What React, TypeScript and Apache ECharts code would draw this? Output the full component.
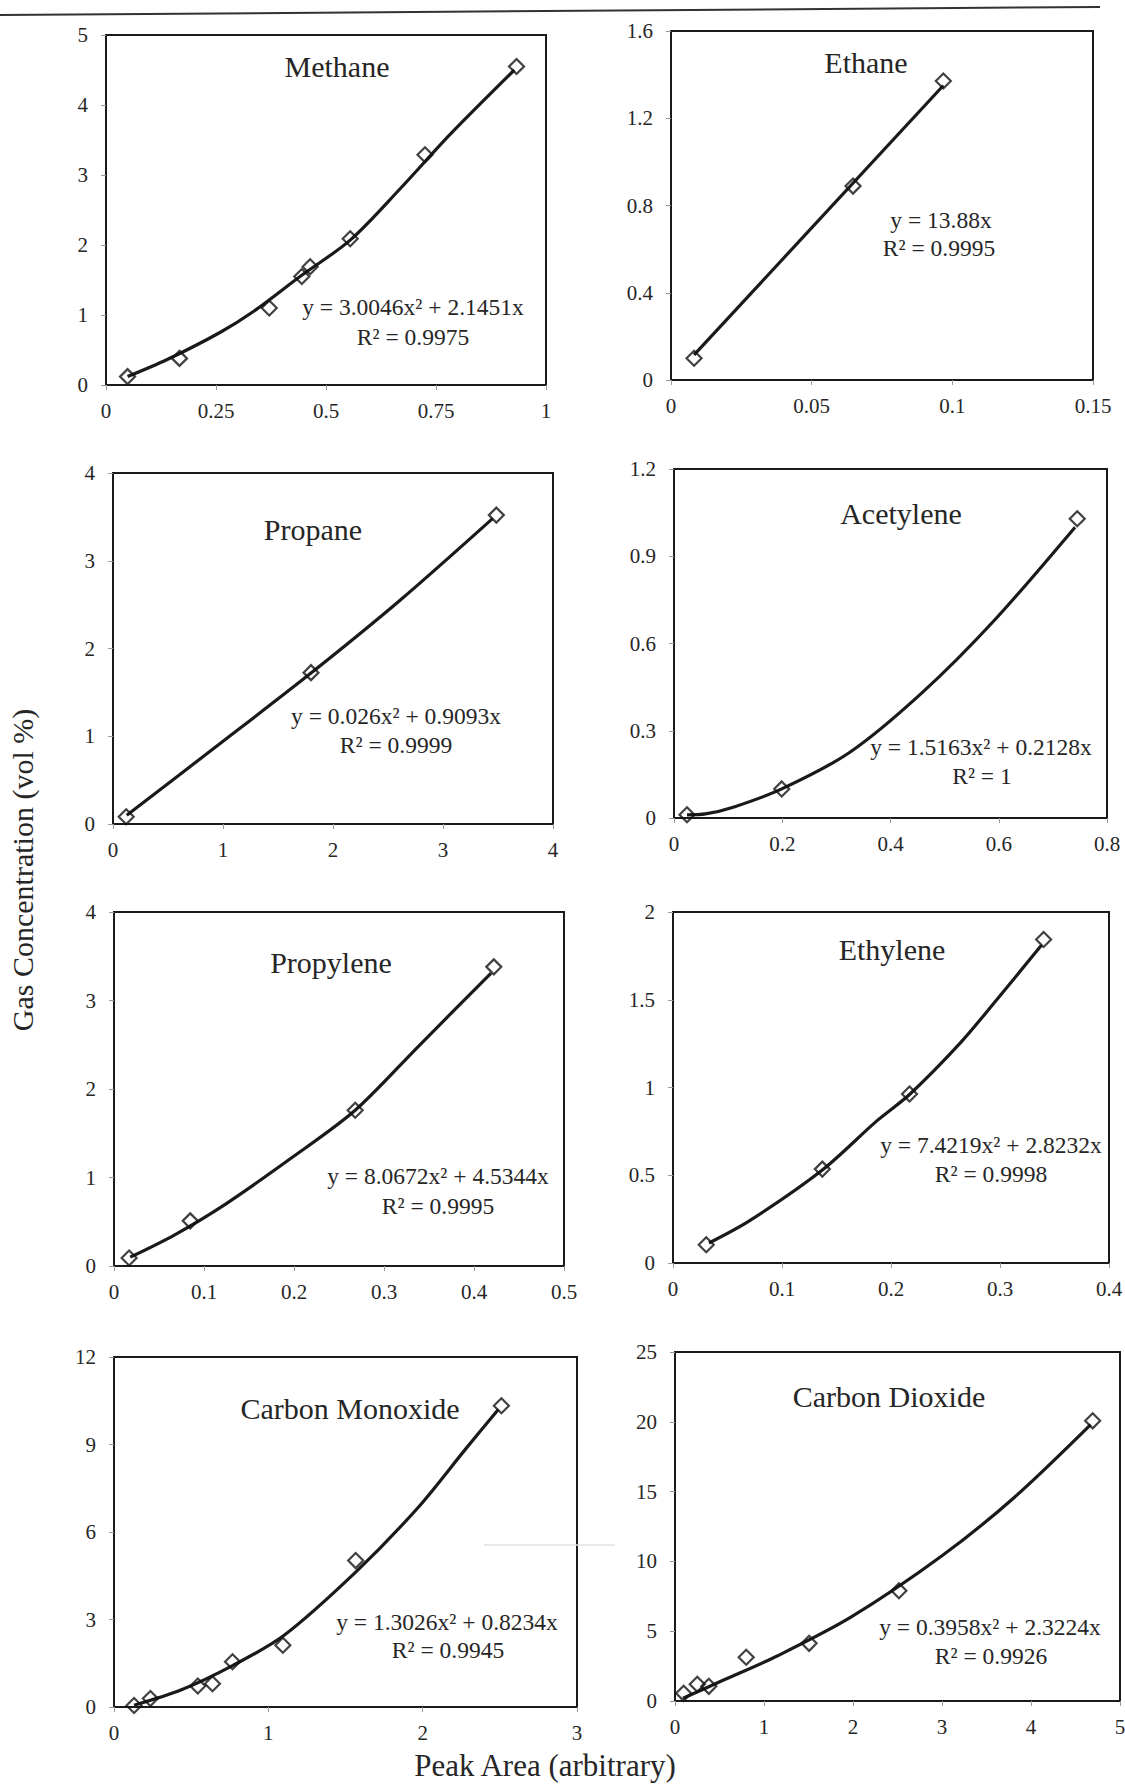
import React, { useEffect, useRef } from "react";
import * as echarts from "echarts";

// ---------- DATA ----------
const gasNames = ["Methane", "Ethane", "Propane", "Acetylene", "Propylene", "Ethylene", "Carbon Monoxide", "Carbon Dioxide"];
const fitEquations = [
  "y = 3.0046x² + 2.1451x",
  "y = 13.88x",
  "y = 0.026x² + 0.9093x",
  "y = 1.5163x² + 0.2128x",
  "y = 8.0672x² + 4.5344x",
  "y = 7.4219x² + 2.8232x",
  "y = 1.3026x² + 0.8234x",
  "y = 0.3958x² + 2.3224x",
];
const fitR2 = ["R² = 0.9975", "R² = 0.9995", "R² = 0.9999", "R² = 1", "R² = 0.9995", "R² = 0.9998", "R² = 0.9945", "R² = 0.9926"];

const xMaxes = [1, 0.15, 4, 0.8, 0.5, 0.4, 3, 5];
const xIntervals = [0.25, 0.05, 1, 0.2, 0.1, 0.1, 1, 1];
const yMaxes = [5, 1.6, 4, 1.2, 4, 2, 12, 25];
const yIntervals = [1, 0.4, 1, 0.3, 1, 0.5, 3, 5];

// measured calibration points [peak area, concentration]
const methanePoints = [[0.049, 0.12], [0.167, 0.38], [0.371, 1.1], [0.445, 1.55], [0.464, 1.69], [0.555, 2.09], [0.725, 3.29], [0.933, 4.55]];
const ethanePoints = [[0.0082, 0.1], [0.0647, 0.889], [0.0968, 1.371]];
const propanePoints = [[0.12, 0.083], [1.8, 1.725], [3.485, 3.52]];
const acetylenePoints = [[0.024, 0.011], [0.199, 0.1], [0.745, 1.029]];
const propylenePoints = [[0.0168, 0.09], [0.0847, 0.51], [0.268, 1.76], [0.422, 3.38]];
const ethylenePoints = [[0.0305, 0.104], [0.137, 0.535], [0.217, 0.963], [0.34, 1.843]];
const coPoints = [[0.13, 0.05], [0.236, 0.29], [0.543, 0.72], [0.638, 0.8], [0.768, 1.55], [1.094, 2.12], [1.566, 5.02], [2.51, 10.33]];
const co2Points = [[0.097, 0.55], [0.25, 1.2], [0.38, 1.05], [0.8, 3.13], [1.507, 4.13], [2.516, 7.9], [4.693, 20.07]];

// trend lines
const methaneTrend = [[0.049, 0.12], [0.138, 0.36], [0.259, 0.75], [0.335, 1.05], [0.441, 1.55], [0.555, 2.07], [0.668, 2.8], [0.782, 3.58], [0.928, 4.5]];
const ethaneTrend = [[0.0082, 0.115], [0.0968, 1.35]];
const propaneTrend = [[0.125, 0.1], [0.956, 0.9], [1.8, 1.72], [2.61, 2.55], [3.45, 3.48]];
const acetyleneTrend = [[0.024, 0.011], [0.058, 0.014], [0.111, 0.038], [0.199, 0.1], [0.325, 0.226], [0.458, 0.43], [0.592, 0.68], [0.741, 1.0]];
const propyleneTrend = [[0.018, 0.1], [0.067, 0.35], [0.124, 0.7], [0.197, 1.22], [0.268, 1.76], [0.338, 2.48], [0.419, 3.31]];
const ethyleneTrend = [[0.033, 0.114], [0.07, 0.24], [0.137, 0.53], [0.187, 0.81], [0.217, 0.96], [0.263, 1.25], [0.297, 1.5], [0.338, 1.81]];
const coTrend = [[0.13, 0.06], [0.437, 0.59], [0.768, 1.42], [1.098, 2.44], [1.571, 4.65], [1.972, 6.85], [2.279, 8.85], [2.49, 10.2]];
const co2Trend = [[0.09, 0.2], [0.546, 1.5], [1.16, 3.26], [1.976, 6.0], [3.0, 10.4], [3.815, 14.6], [4.67, 19.8]];

const allPoints = [methanePoints, ethanePoints, propanePoints, acetylenePoints, propylenePoints, ethylenePoints, coPoints, co2Points];
const allTrends = [methaneTrend, ethaneTrend, propaneTrend, acetyleneTrend, propyleneTrend, ethyleneTrend, coTrend, co2Trend];

const yAxisTitle = "Gas Concentration (vol %)";
const xAxisTitle = "Peak Area (arbitrary)";

// ---------- LAYOUT (pixels) ----------
const gridBoxes = [
  { left: 106, top: 35, width: 440, height: 350 },
  { left: 671, top: 31, width: 422, height: 349 },
  { left: 113, top: 473, width: 440, height: 351 },
  { left: 674, top: 469, width: 433, height: 349 },
  { left: 114, top: 912, width: 450, height: 354 },
  { left: 673, top: 912, width: 436, height: 351 },
  { left: 114, top: 1357, width: 463, height: 350 },
  { left: 675, top: 1352, width: 445, height: 349 },
];
const titlePos = [[337, 66], [866, 62], [313, 529], [901, 513], [331, 962], [892, 949], [350, 1408], [889, 1396]];
const eqPos = [[413, 307], [941, 220], [396, 716], [981, 747], [438, 1176], [991, 1145], [447, 1622], [990, 1627]];
const r2Pos = [[413, 337], [939, 248], [396, 745], [982, 776], [438, 1206], [991, 1174], [448, 1650], [991, 1656]];

const FONT = "'Liberation Serif', 'Times New Roman', serif";
const INK = "#262626";

const fmt = (v: number) => String(parseFloat(v.toFixed(6)));

function buildOption() {
  const grid: any[] = [];
  const xAxis: any[] = [];
  const yAxis: any[] = [];
  const series: any[] = [];
  const graphic: any[] = [];

  gridBoxes.forEach((b, i) => {
    grid.push({
      ...b,
      show: true,
      borderColor: "#1a1a1a",
      borderWidth: 2,
      backgroundColor: "transparent",
      containLabel: false,
      outerBoundsMode: "none",
    });
    xAxis.push({
      type: "value",
      gridIndex: i,
      min: 0,
      max: xMaxes[i],
      interval: xIntervals[i],
      splitLine: { show: false },
      axisLine: { show: true, onZero: false, lineStyle: { color: "#1a1a1a", width: 2 } },
      axisTick: { show: true, length: 5, lineStyle: { color: "#999", width: 1 } },
      axisLabel: { color: INK, fontFamily: FONT, fontSize: 21, margin: 15, formatter: fmt, showMaxLabel: true, showMinLabel: true },
    });
    yAxis.push({
      type: "value",
      gridIndex: i,
      min: 0,
      max: yMaxes[i],
      interval: yIntervals[i],
      splitLine: { show: false },
      axisLine: { show: true, onZero: false, lineStyle: { color: "#1a1a1a", width: 2 } },
      axisTick: { show: true, length: 5, lineStyle: { color: "#999", width: 1 } },
      axisLabel: { color: INK, fontFamily: FONT, fontSize: 21, margin: 18, formatter: fmt, padding: [0, 0, 11, 0] },
    });
    series.push({
      type: "line",
      xAxisIndex: i,
      yAxisIndex: i,
      data: allTrends[i],
      smooth: 0.3,
      showSymbol: false,
      symbol: "none",
      lineStyle: { color: "#1a1a1a", width: 3.2 },
      silent: true,
      z: 2,
    });
    series.push({
      type: "scatter",
      xAxisIndex: i,
      yAxisIndex: i,
      data: allPoints[i],
      symbol: "diamond",
      symbolSize: 15,
      itemStyle: { color: "transparent", borderColor: "#111", borderWidth: 2.2 },
      z: 3,
    });

    graphic.push({
      type: "text",
      x: titlePos[i][0],
      y: titlePos[i][1],
      style: { text: gasNames[i], fill: INK, fontFamily: FONT, fontSize: 30, align: "center", verticalAlign: "middle" },
      z: 10,
    });
    graphic.push({
      type: "text",
      x: eqPos[i][0],
      y: eqPos[i][1],
      style: { text: fitEquations[i], fill: INK, fontFamily: FONT, fontSize: 23.5, align: "center", verticalAlign: "middle" },
      z: 10,
    });
    graphic.push({
      type: "text",
      x: r2Pos[i][0],
      y: r2Pos[i][1],
      style: { text: fitR2[i], fill: INK, fontFamily: FONT, fontSize: 23.5, align: "center", verticalAlign: "middle" },
      z: 10,
    });
  });

  graphic.push({
    type: "line",
    shape: { x1: 0, y1: 15, x2: 1100, y2: 7 },
    style: { stroke: "#333", lineWidth: 2 },
  });
  graphic.push({
    type: "line",
    shape: { x1: 484, y1: 1545, x2: 615, y2: 1545 },
    style: { stroke: "#e2e2e2", lineWidth: 1.5 },
  });
  graphic.push({
    type: "text",
    x: 22,
    y: 870,
    rotation: Math.PI / 2,
    style: { text: yAxisTitle, fill: INK, fontFamily: FONT, fontSize: 30, align: "center", verticalAlign: "middle" },
  });
  graphic.push({
    type: "text",
    x: 545,
    y: 1765,
    style: { text: xAxisTitle, fill: INK, fontFamily: FONT, fontSize: 31, align: "center", verticalAlign: "middle" },
  });

  return {
    animation: false,
    backgroundColor: "#ffffff",
    grid,
    xAxis,
    yAxis,
    series,
    graphic,
  };
}

export default function App() {
  const ref = useRef<HTMLDivElement>(null);
  useEffect(() => {
    if (!ref.current) return;
    const chart = echarts.init(ref.current, null, { renderer: "svg" });
    chart.setOption(buildOption() as any);
    return () => {
      chart.dispose();
    };
  }, []);
  return (
    <div
      ref={ref}
      style={{ position: "absolute", left: 0, top: 0, width: 1125, height: 1787, background: "#fff" }}
    />
  );
}
